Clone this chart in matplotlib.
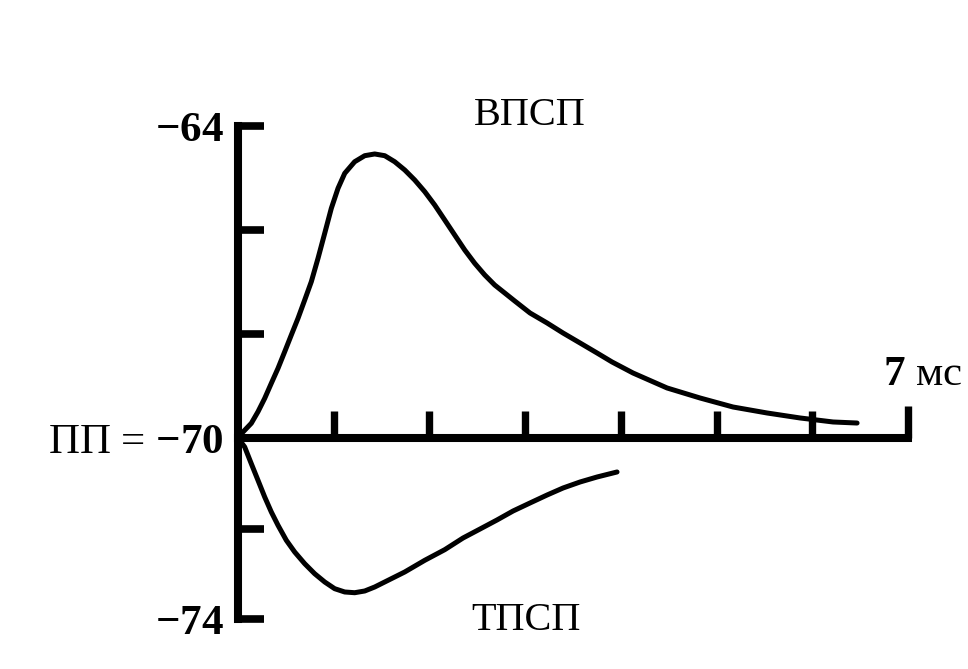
#!/usr/bin/env python3
# -*- encoding: utf8 -*-
import numpy as np
import matplotlib
matplotlib.use("Agg")
import matplotlib.pyplot as plt

plt.rcParams["font.family"] = ["Liberation Serif", "DejaVu Serif"]
plt.rcParams["mathtext.fontset"] = "custom"
plt.rcParams["mathtext.rm"] = "Liberation Serif"
plt.rcParams["mathtext.bf"] = "Liberation Serif:bold"

# ВПСП (ms, mV)
t_epsp = [0, 0.052, 0.139, 0.209, 0.279, 0.348, 0.418, 0.488, 0.557, 0.627,
          0.697, 0.766, 0.836, 0.906, 0.975, 1.045, 1.115, 1.219, 1.324,
          1.428, 1.533, 1.637, 1.742, 1.846, 1.951, 2.055, 2.160, 2.264,
          2.369, 2.473, 2.578, 2.682, 2.787, 2.891, 3.051, 3.229, 3.396,
          3.574, 3.751, 3.908, 4.127, 4.483, 4.828, 5.172, 5.528, 5.873,
          6.217, 6.468]
v_epsp = [-70, -69.885, -69.717, -69.494, -69.237, -68.948, -68.660, -68.340,
          -68.019, -67.698, -67.346, -66.994, -66.544, -66.063, -65.583,
          -65.198, -64.910, -64.687, -64.571, -64.538, -64.571, -64.687,
          -64.846, -65.038, -65.263, -65.519, -65.808, -66.096, -66.385,
          -66.640, -66.865, -67.058, -67.212, -67.365, -67.596, -67.788,
          -67.981, -68.173, -68.365, -68.538, -68.750, -69.038, -69.231,
          -69.404, -69.519, -69.615, -69.692, -69.712]

# ТПСП (ms, mV)
t_ipsp = [0, 0.070, 0.139, 0.209, 0.279, 0.348, 0.418, 0.505, 0.592, 0.697,
          0.801, 0.906, 1.010, 1.115, 1.219, 1.324, 1.428, 1.533, 1.637,
          1.742, 1.951, 2.160, 2.351, 2.529, 2.706, 2.874, 3.051, 3.229,
          3.396, 3.574, 3.751, 3.960]
v_ipsp = [-70, -70.199, -70.568, -70.935, -71.304, -71.635, -71.929, -72.261,
          -72.519, -72.778, -72.999, -73.182, -73.330, -73.403, -73.419,
          -73.381, -73.293, -73.182, -73.072, -72.961, -72.703, -72.468,
          -72.210, -72.011, -71.812, -71.613, -71.436, -71.260, -71.105,
          -70.972, -70.862, -70.751]

y_ticks = [-74, -72, -70, -68, -66, -64]
y_labels = [r"$\mathbf{-74}$", "", r"ПП = $\mathbf{-70}$", "", "", r"$\mathbf{-64}$"]
x_ticks = [1, 2, 3, 4, 5, 6, 7]

# шкала по y в оригинале неравномерная выше и ниже -70
def fwd(y):
    y = np.asarray(y, dtype=float)
    return np.where(y >= -70, (y + 70) * 52.0, (y + 70) * 45.25)

def inv(v):
    v = np.asarray(v, dtype=float)
    return np.where(v >= 0, v / 52.0 - 70, v / 45.25 - 70)

fig = plt.figure(figsize=(9.68, 6.69), dpi=100)
ax = fig.add_axes([238 / 968, 1 - 619 / 669, 670 / 968, 493 / 669])
ax.set_yscale("function", functions=(fwd, inv))

for t, v in ((t_epsp, v_epsp), (t_ipsp, v_ipsp)):
    ax.plot(t, v, "k-", lw=3.6, solid_capstyle="round",
            solid_joinstyle="round", clip_on=False)

ax.set_xlim(0, 7)
ax.set_ylim(-74, -64)

for s in ("top", "right"):
    ax.spines[s].set_visible(False)
ax.spines["left"].set_position(("data", 0))
ax.spines["bottom"].set_position(("data", -70))
for s in ("left", "bottom"):
    ax.spines[s].set_linewidth(5.8)
    ax.spines[s].set_capstyle("projecting")

ax.set_yticks(y_ticks)
ax.set_yticklabels(y_labels, fontsize=31)
ax.set_xticks(x_ticks)
ax.set_xticklabels([])
ax.tick_params(axis="y", direction="in", length=18.5, width=5.5, pad=10)
ax.tick_params(axis="x", direction="in", length=19.5, width=5.3)
ax.xaxis.get_major_ticks()[-1].tick1line.set_markersize(23)

ax.text(0.963, 0.495, r"$\mathbf{7}$ мс", transform=ax.transAxes,
        fontsize=31, ha="left", va="center")
ax.text(0.436, 1.022, "ВПСП", transform=ax.transAxes,
        fontsize=29, ha="center", va="center")
ax.text(0.430, -0.004, "ТПСП", transform=ax.transAxes,
        fontsize=29, ha="center", va="center")

ax.patch.set_visible(False)
fig.savefig("out.png", dpi=100)
